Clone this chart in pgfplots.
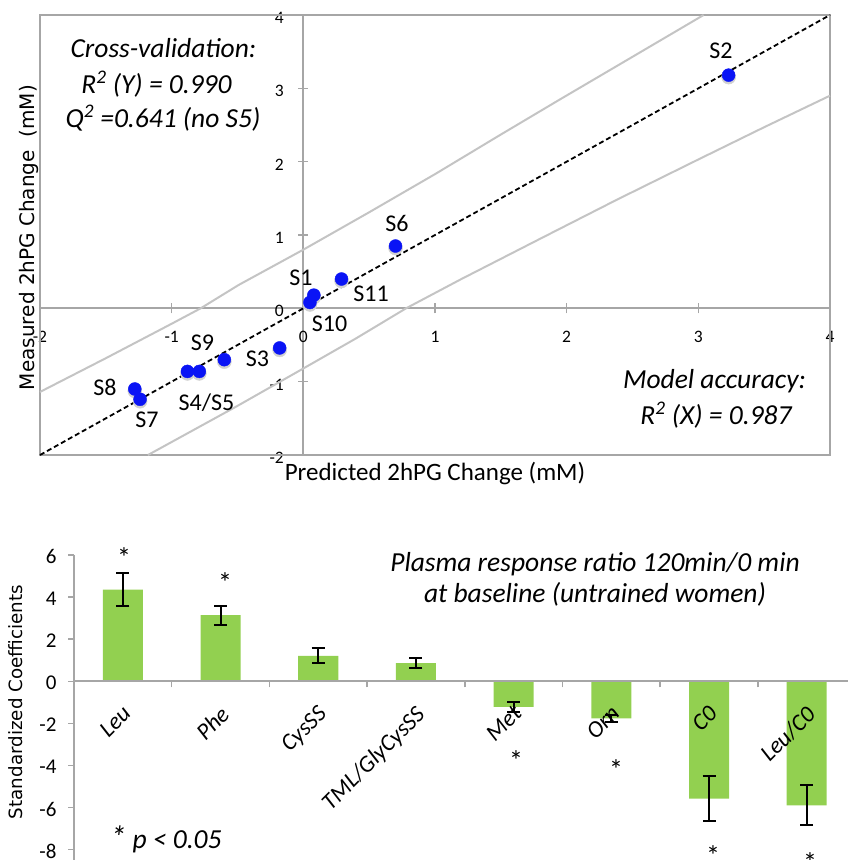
\documentclass[border=0pt]{standalone}
\usepackage{pgfplots}
\pgfplotsset{compat=1.18}
\usepackage{pgfplotstable}
\usepackage{fontspec}
\setmainfont{Carlito}
\newfontfamily\dejavu{DejaVu Sans}

\definecolor{axgray}{HTML}{A6A6A6}
\definecolor{bandgray}{HTML}{C4C4C4}
\definecolor{bargreen}{HTML}{92D050}
\definecolor{dotblue}{HTML}{0A14F5}

\newcommand{\fs}[1]{\fontsize{#1}{#1}\selectfont}

% predicted / measured 2hPG change
\pgfplotstableread{
x     y
3.23  3.18
0.70  0.85
0.29  0.40
0.08  0.18
0.05  0.08
-0.18 -0.54
-0.60 -0.70
-0.88 -0.86
-0.79 -0.86
-1.28 -1.10
-1.24 -1.24
}\subjects

\pgfplotstableread{
x     y
-2    -1.14
-1.5  -0.68
-1    -0.21
-0.78 0
-0.49 0.32
0     0.80
0.5   1.31
1     1.83
1.5   2.37
1.95  2.85
2.5   3.43
3.04  4
}\upperband

\pgfplotstableread{
x     y
-1.18 -2
-0.5  -1.33
0     -0.82
0.4   -0.41
0.78  0
1.19  0.39
1.8   0.95
2.38  1.48
3     2.03
3.5   2.47
4     2.9
}\lowerband

% standardized coefficients
\pgfplotstableread{
x  y      e
0  4.36   0.78
1  3.14   0.45
2  1.21   0.36
3  0.86   0.24
4  -1.22  0.22
5  -1.76  0.15
6  -5.57  1.07
7  -5.89  0.95
}\coefs

\begin{document}
\begin{tikzpicture}

\begin{axis}[
  at={(40pt,-455pt)}, anchor=south west,
  scale only axis, width=790pt, height=440pt,
  xmin=-2, xmax=4, ymin=-2, ymax=4,
  axis lines=middle,
  axis line style={-, draw=axgray, line width=2pt},
  xtick={-2,...,4}, ytick={-2,...,4},
  xticklabels={-2,-1,0,1,2,3,4},
  yticklabels={-2,-1,0,1,2,3,4},
  hide obscured x ticks=false, hide obscured y ticks=false,
  tick align=center, major tick length=10pt,
  tick style={draw=axgray, line width=1.5pt},
  xticklabel style={font=\fs{17.5}, anchor=north, yshift=-14pt},
  yticklabel style={font=\fs{17.5}, anchor=east, xshift=-11pt, yshift=-3pt},
  clip=false,
]
  \draw[axgray, line width=2pt] (rel axis cs:0,0) rectangle (rel axis cs:1,1);
  \addplot[bandgray, line width=2pt] table {\upperband};
  \addplot[bandgray, line width=2pt] table {\lowerband};
  \addplot[black, line width=1.8pt, dash pattern=on 5pt off 3pt] coordinates {(-2,-2) (4,4)};
  \addplot[only marks, mark=*, mark size=7pt, black!18, mark options={draw=none, yshift=-2pt}] table {\subjects};
  \addplot[only marks, mark=*, mark size=6.5pt, dotblue, mark options={draw=none}] table {\subjects};
\end{axis}

% labels of the top panel
\node[anchor=base] at (435pt,-480pt) {\fs{25}Predicted 2hPG Change (mM)};
\node[anchor=base, rotate=90] at (34.5pt,-237.5pt) {\dejavu\fs{20}Measured 2hPG Change\ \ (mM)};
\begin{scope}[every node/.style={anchor=base, font=\fs{27.5}\itshape}]
  \node at (163.5pt,-57.5pt) {Cross-validation:};
  \node at (156.5pt,-93pt) {R\textsuperscript{2} (Y) = 0.990};
  \node at (163pt,-127pt) {Q\textsuperscript{2} =0.641 (no S5)};
  \node at (714.5pt,-388pt) {Model accuracy:};
  \node at (716pt,-424pt) {R\textsuperscript{2} (X) = 0.987};
\end{scope}
\begin{scope}[every node/.style={anchor=base, font=\fs{24}}]
  \node at (721pt,-58pt) {S2};
  \node at (397pt,-231.5pt) {S6};
  \node at (301pt,-285pt) {S1};
  \node at (371pt,-301pt) {S11};
  \node at (329.5pt,-331.5pt) {S10};
  \node at (202.5pt,-350.5pt) {S9};
  \node at (257.5pt,-366.5pt) {S3};
  \node at (105pt,-395.5pt) {S8};
  \node at (206.5pt,-410pt) {S4/S5};
  \node at (147pt,-427pt) {S7};
\end{scope}

\begin{axis}[
  at={(74pt,-555pt)}, anchor=north west,
  scale only axis, width=781.6pt, height=305.2pt,
  xmin=-0.5, xmax=7.5, ymin=-8.5, ymax=6,
  axis x line=middle, axis y line=left,
  axis line style={-, draw=axgray, line width=2pt},
  axis on top,
  ytick={-8,-6,...,6},
  yticklabels={-8,-6,-4,-2,0,2,4,6},
  xtick={0,...,7},
  xticklabels={Leu,Phe,CysSS,TML/GlyCysSS,Met,Orn,C0,Leu/C0},
  minor xtick={-0.5,0.5,...,6.5},
  major x tick style={draw=none},
  tick align=outside, major tick length=6pt, minor tick length=6pt,
  tick style={draw=axgray, line width=1.5pt},
  yticklabel style={font=\fs{21}, anchor=east, xshift=-8pt, yshift=-1.5pt},
  xticklabel style={font=\fs{23.5}\itshape, xshift=-1.5pt, yshift=-17pt,
    rotate=45, anchor=north east, inner sep=0pt},
  clip=false,
]
  \addplot[ybar, bar width=40pt, fill=bargreen, draw=none,
    error bars/.cd, y dir=both, y explicit,
    error bar style={black, line width=2pt},
    error mark options={rotate=90, black, line width=2pt, mark size=6.5pt}]
    table[x=x, y=y, y error=e] {\coefs};
\end{axis}

% labels of the bottom panel
\node[anchor=base, rotate=90] at (23pt,-702pt) {\dejavu\fs{18.3}Standardized Coefficients};
\begin{scope}[every node/.style={anchor=base, font=\fs{27.5}\itshape}]
  \node at (595pt,-571.5pt) {Plasma response ratio 120min/0 min};
  \node at (595pt,-602pt) {at baseline (untrained women)};
  \node at (166pt,-848pt) {{\fs{32}*} p < 0.05};
\end{scope}
\begin{scope}[every node/.style={anchor=base, font=\fs{28}}]
  \node at (124pt,-567.5pt) {*};
  \node at (225pt,-592.5pt) {*};
  \node at (516pt,-770.5pt) {*};
  \node at (616pt,-779.5pt) {*};
  \node at (713pt,-865.5pt) {*};
  \node at (810pt,-872.5pt) {*};
\end{scope}

\pgfresetboundingbox
\path[use as bounding box] (0,0) rectangle (847pt,-860pt);
\end{tikzpicture}
\end{document}
